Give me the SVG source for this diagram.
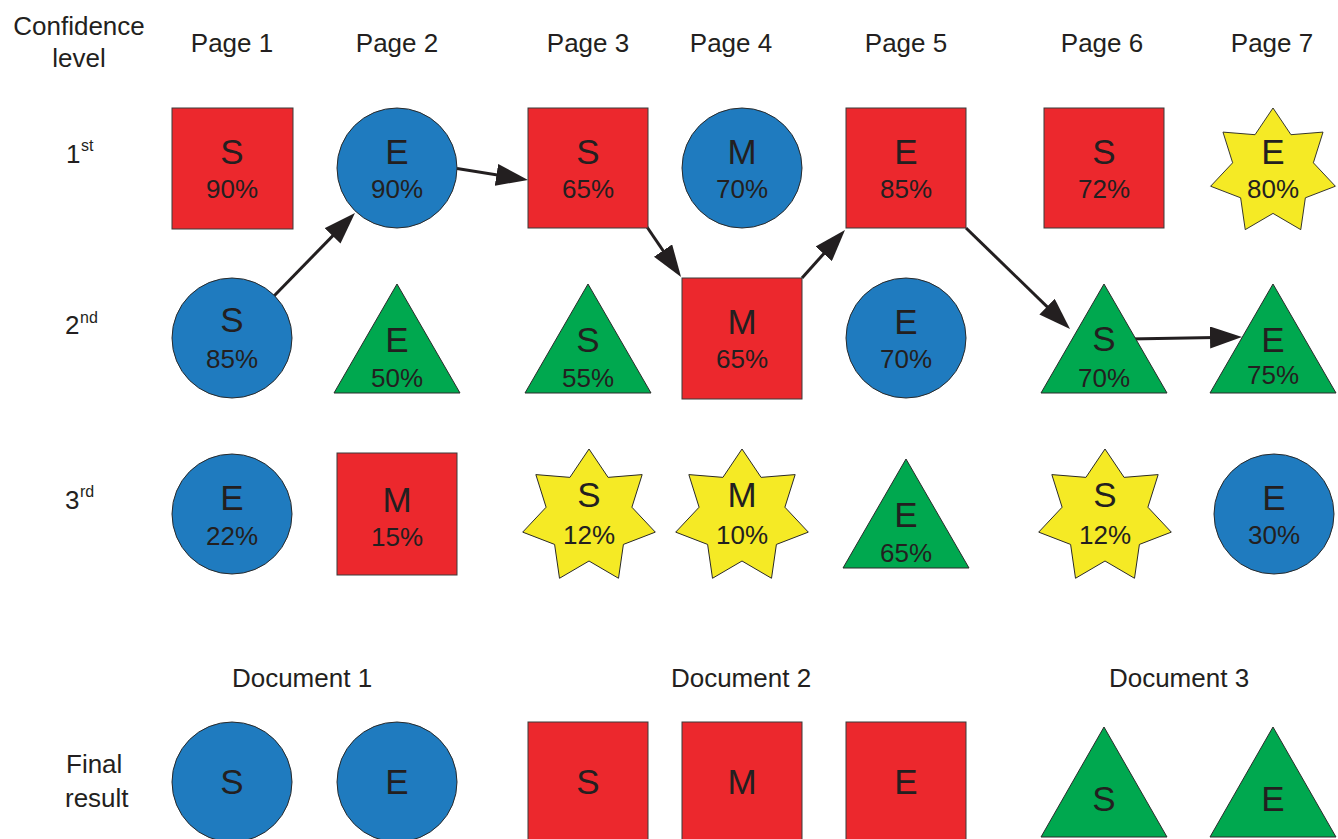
<svg xmlns="http://www.w3.org/2000/svg" xmlns:xlink="http://www.w3.org/1999/xlink" width="1338" height="839" viewBox="0 0 1338 839">
<style>
text{font-family:"Liberation Sans",Arial,sans-serif;fill:#231F20}
.hd{font-size:26px;text-anchor:middle}
.lft{font-size:26px}
.sup{font-size:16px}
.L{font-size:35px;text-anchor:middle}
.P{font-size:26px;text-anchor:middle}
.sq{fill:#EC282D;stroke:#3a3a3a;stroke-width:1}
.ci{fill:#1F7BBF;stroke:#2a2a2a;stroke-width:1}
.tr{fill:#00A84F;stroke:#2a2a2a;stroke-width:1}
.st{fill:#F5EA25;stroke:#2a2a2a;stroke-width:1;vector-effect:non-scaling-stroke}
.cn{stroke:#231F20;stroke-width:3;fill:none;marker-end:url(#ah)}
</style>
<defs>
<marker id="ah" markerUnits="userSpaceOnUse" markerWidth="32" markerHeight="22" viewBox="0 0 32 22" refX="20" refY="11" orient="auto">
<path d="M0,0 L32,11 L0,22 z" fill="#231F20"/>
</marker>
<polygon id="star" points="0,-68 19.09,-39.64 53.16,-42.40 42.90,-9.79 66.30,15.13 34.40,27.43 29.50,61.27 0,44 -29.50,61.27 -34.40,27.43 -66.30,15.13 -42.90,-9.79 -53.16,-42.40 -19.09,-39.64"/>
</defs>
<rect width="1338" height="839" fill="#fff"/>

<g id="headers">
<text class="hd" x="79" y="35">Confidence</text>
<text class="hd" x="79" y="67">level</text>
<text class="hd" x="232" y="52">Page 1</text>
<text class="hd" x="397" y="52">Page 2</text>
<text class="hd" x="588" y="52">Page 3</text>
<text class="hd" x="731" y="52">Page 4</text>
<text class="hd" x="906" y="52">Page 5</text>
<text class="hd" x="1102" y="52">Page 6</text>
<text class="hd" x="1272" y="52">Page 7</text>
<text class="lft" x="66" y="163">1</text><text class="sup" x="81" y="151">st</text>
<text class="lft" x="65" y="334">2</text><text class="sup" x="80" y="323">nd</text>
<text class="lft" x="65" y="509">3</text><text class="sup" x="80" y="497">rd</text>
<text class="hd" x="302" y="687">Document 1</text>
<text class="hd" x="741" y="687">Document 2</text>
<text class="hd" x="1179" y="687">Document 3</text>
<text class="lft" x="66" y="773">Final</text>
<text class="lft" x="65" y="807">result</text>
</g>

<g id="connectors">
<line class="cn" x1="274" y1="296" x2="346.6" y2="221.6"/>
<line class="cn" x1="457" y1="168.5" x2="516.2" y2="178"/>
<line class="cn" x1="647" y1="227" x2="674.3" y2="267.1"/>
<line class="cn" x1="802" y1="278" x2="837" y2="238.9"/>
<line class="cn" x1="966" y1="228" x2="1061.4" y2="320.6"/>
<line class="cn" x1="1129" y1="339" x2="1230" y2="337.2"/>
</g>

<!-- Row 1 -->
<g id="r1p1"><rect class="sq" x="172" y="108" width="121" height="121"/><text class="L" x="232" y="164">S</text><text class="P" x="232" y="198">90%</text></g>
<g id="r1p2"><circle class="ci" cx="397" cy="168" r="60"/><text class="L" x="397" y="164">E</text><text class="P" x="397" y="198">90%</text></g>
<g id="r1p3"><rect class="sq" x="528" y="108" width="120" height="120"/><text class="L" x="588" y="164">S</text><text class="P" x="588" y="198">65%</text></g>
<g id="r1p4"><circle class="ci" cx="742" cy="168" r="60"/><text class="L" x="742" y="164">M</text><text class="P" x="742" y="198">70%</text></g>
<g id="r1p5"><rect class="sq" x="846" y="108" width="120" height="120"/><text class="L" x="906" y="164">E</text><text class="P" x="906" y="198">85%</text></g>
<g id="r1p6"><rect class="sq" x="1044" y="108" width="120" height="120"/><text class="L" x="1104" y="164">S</text><text class="P" x="1104" y="198">72%</text></g>
<g id="r1p7"><use xlink:href="#star" class="st" transform="translate(1273,172) scale(0.941)"/><text class="L" x="1273" y="164">E</text><text class="P" x="1273" y="198">80%</text></g>

<!-- Row 2 -->
<g id="r2p1"><circle class="ci" cx="232" cy="338" r="60"/><text class="L" x="232" y="332">S</text><text class="P" x="232" y="368">85%</text></g>
<g id="r2p2"><polygon class="tr" points="397,284 460,393 334,393"/><text class="L" x="397" y="352">E</text><text class="P" x="397" y="387">50%</text></g>
<g id="r2p3"><polygon class="tr" points="588,284 651,393 525,393"/><text class="L" x="588" y="352">S</text><text class="P" x="588" y="387">55%</text></g>
<g id="r2p4"><rect class="sq" x="682" y="278" width="120" height="121"/><text class="L" x="742" y="334">M</text><text class="P" x="742" y="368">65%</text></g>
<g id="r2p5"><circle class="ci" cx="906" cy="338" r="60"/><text class="L" x="906" y="334">E</text><text class="P" x="906" y="368">70%</text></g>
<g id="r2p6"><polygon class="tr" points="1104,284 1167,393 1041,393"/><text class="L" x="1104" y="351">S</text><text class="P" x="1104" y="387">70%</text></g>
<g id="r2p7"><polygon class="tr" points="1273,284 1336,393 1210,393"/><text class="L" x="1273" y="352">E</text><text class="P" x="1273" y="384">75%</text></g>

<!-- Row 3 -->
<g id="r3p1"><circle class="ci" cx="232" cy="514" r="60"/><text class="L" x="232" y="510">E</text><text class="P" x="232" y="545">22%</text></g>
<g id="r3p2"><rect class="sq" x="337" y="453" width="120" height="122"/><text class="L" x="397" y="512">M</text><text class="P" x="397" y="546">15%</text></g>
<g id="r3p3"><use xlink:href="#star" class="st" transform="translate(589,517)"/><text class="L" x="589" y="507">S</text><text class="P" x="589" y="544">12%</text></g>
<g id="r3p4"><use xlink:href="#star" class="st" transform="translate(742,517)"/><text class="L" x="742" y="507">M</text><text class="P" x="742" y="544">10%</text></g>
<g id="r3p5"><polygon class="tr" points="906,459 969,568 843,568"/><text class="L" x="906" y="527">E</text><text class="P" x="906" y="562">65%</text></g>
<g id="r3p6"><use xlink:href="#star" class="st" transform="translate(1105,517)"/><text class="L" x="1105" y="507">S</text><text class="P" x="1105" y="544">12%</text></g>
<g id="r3p7"><circle class="ci" cx="1274" cy="514" r="60"/><text class="L" x="1274" y="510">E</text><text class="P" x="1274" y="544">30%</text></g>

<!-- Final result -->
<g id="f1"><circle class="ci" cx="232" cy="782" r="60"/><text class="L" x="232" y="794">S</text></g>
<g id="f2"><circle class="ci" cx="397" cy="782" r="60"/><text class="L" x="397" y="794">E</text></g>
<g id="f3"><rect class="sq" x="528" y="722" width="120" height="121"/><text class="L" x="588" y="794">S</text></g>
<g id="f4"><rect class="sq" x="682" y="722" width="120" height="121"/><text class="L" x="742" y="794">M</text></g>
<g id="f5"><rect class="sq" x="846" y="722" width="120" height="121"/><text class="L" x="906" y="794">E</text></g>
<g id="f6"><polygon class="tr" points="1104,727 1167,837 1041,837"/><text class="L" x="1104" y="811">S</text></g>
<g id="f7"><polygon class="tr" points="1273,727 1336,837 1210,837"/><text class="L" x="1273" y="811">E</text></g>
</svg>
